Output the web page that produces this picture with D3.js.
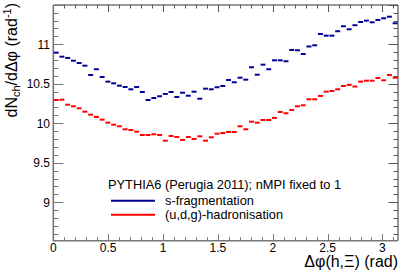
<!DOCTYPE html>
<html>
<head>
<meta charset="utf-8">
<script src="https://cdn.jsdelivr.net/npm/d3@7"></script>
<style>
  body { margin: 0; background: #fff; }
  text { font-family: "Liberation Sans", Arial, Helvetica, sans-serif; }
</style>
</head>
<body>
<svg id="chart"></svg>
<script>
// values per bin, 60 bins over [0, pi]
var nBins = 60;
var sFrag = [10.894, 10.843, 10.827, 10.792, 10.763, 10.729, 10.611, 10.684, 10.586, 10.527,
             10.506, 10.476, 10.459, 10.430, 10.459, 10.396, 10.295, 10.320, 10.342, 10.371,
             10.396, 10.333, 10.387, 10.349, 10.400, 10.311, 10.438, 10.430, 10.456, 10.472,
             10.548, 10.519, 10.577, 10.552, 10.709, 10.615, 10.742, 10.684, 10.797, 10.797,
             10.785, 10.928, 10.924, 10.877, 10.972, 10.987, 11.130, 11.109, 11.109, 11.165,
             11.228, 11.190, 11.241, 11.282, 11.299, 11.278, 11.308, 11.329, 11.349, 11.266];
var udgHad = [10.295, 10.299, 10.235, 10.215, 10.190, 10.147, 10.109, 10.080, 10.046, 10.008,
              9.982, 9.962, 9.924, 9.915, 9.894, 9.852, 9.852, 9.861, 9.852, 9.780,
              9.839, 9.827, 9.789, 9.827, 9.801, 9.835, 9.780, 9.823, 9.868, 9.877,
              9.890, 9.890, 9.962, 9.924, 10.020, 10.008, 10.042, 10.042, 10.068, 10.143,
              10.127, 10.168, 10.215, 10.228, 10.304, 10.304, 10.346, 10.400, 10.409, 10.430,
              10.472, 10.486, 10.465, 10.527, 10.539, 10.539, 10.573, 10.544, 10.611, 10.577];
var xTicks = [0, 0.5, 1, 1.5, 2, 2.5, 3];
var yTicks = [9, 9.5, 10, 10.5, 11];
var seriesNames = ["s-fragmentation", "(u,d,g)-hadronisation"];
var seriesColors = ["#000099", "#ff0000"];
var legendTitle = "PYTHIA6 (Perugia 2011); nMPI fixed to 1";

var w = 407, h = 277;
var pLeft = 53.3, pRight = 398, pTop = 5, pBottom = 240.7;

var svg = d3.select("#chart").attr("width", w).attr("height", h);

var x = d3.scaleLinear().domain([0, Math.PI]).range([pLeft, pRight]);
var y = d3.scaleLinear().domain([8.514, 11.497]).range([pBottom, pTop]);

// frame
svg.append("line").attr("x1", pLeft).attr("x2", pRight).attr("y1", pTop).attr("y2", pTop)
   .attr("stroke", "#333").attr("stroke-width", 1);
svg.append("line").attr("x1", pRight).attr("x2", pRight).attr("y1", pTop).attr("y2", pBottom)
   .attr("stroke", "#333").attr("stroke-width", 1);

// minor / major ticks
var xMinor = d3.range(0, 3.15, 0.1);
var yMinor = d3.range(8.6, 11.5, 0.1);
var tg = svg.append("g").attr("stroke", "#777").attr("stroke-width", 1);
xMinor.forEach(function(v) {
  var major = Math.abs(v * 2 - Math.round(v * 2)) < 1e-6;
  var px = Math.round(x(v)) + 0.5;
  tg.append("line").attr("x1", px).attr("x2", px).attr("y1", pBottom).attr("y2", pBottom - (major ? 6.5 : 3.5));
  tg.append("line").attr("x1", px).attr("x2", px).attr("y1", pTop).attr("y2", pTop + (major ? 7 : 3.5)).attr("stroke", "#555");
});
yMinor.forEach(function(v) {
  var major = Math.abs(v * 2 - Math.round(v * 2)) < 1e-6;
  var py = Math.round(y(v)) + 0.5;
  tg.append("line").attr("x1", pLeft).attr("x2", pLeft + (major ? 10 : 5)).attr("y1", py).attr("y2", py);
  tg.append("line").attr("x1", pRight).attr("x2", pRight - (major ? 9.5 : 4.5)).attr("y1", py).attr("y2", py).attr("stroke", "#555");
});

// axis lines
svg.append("line").attr("x1", pLeft).attr("x2", pLeft).attr("y1", pTop).attr("y2", pBottom + 0.5)
   .attr("stroke", "#777").attr("stroke-width", 1.6);
svg.append("line").attr("x1", pLeft).attr("x2", pRight).attr("y1", pBottom).attr("y2", pBottom)
   .attr("stroke", "#777").attr("stroke-width", 1.6);

// tick labels
svg.selectAll(".xl").data(xTicks).enter().append("text")
   .attr("x", function(d) { return x(d); }).attr("y", 252)
   .attr("text-anchor", "middle").attr("font-size", 12).attr("fill", "#000")
   .text(function(d) { return d; });
svg.selectAll(".yl").data(yTicks).enter().append("text")
   .attr("x", 50).attr("y", function(d) { return y(d) + 4.3; })
   .attr("text-anchor", "end").attr("font-size", 12).attr("fill", "#000")
   .text(function(d) { return d; });

// axis titles
svg.append("text").attr("x", 398).attr("y", 267).attr("text-anchor", "end")
   .attr("font-size", 16).text("\u0394\u03c6(h,\u039e) (rad)");
var yt = svg.append("text").attr("transform", "translate(17,3) rotate(-90)")
   .attr("text-anchor", "end").attr("font-size", 16);
yt.append("tspan").text("dN");
yt.append("tspan").attr("font-size", 11).attr("dy", 3).text("ch");
yt.append("tspan").attr("dy", -3).text("/d\u0394\u03c6 (rad");
yt.append("tspan").attr("font-size", 11).attr("dy", -6).text("-1");
yt.append("tspan").attr("dy", 6).text(")");

// histogram bars
var bw = Math.PI / nBins;
[sFrag, udgHad].forEach(function(series, k) {
  svg.append("g").selectAll("line").data(series).enter().append("line")
     .attr("x1", function(d, i) { return x(i * bw) + 0.4; })
     .attr("x2", function(d, i) { return x((i + 1) * bw) - 0.4; })
     .attr("y1", function(d) { return y(d); })
     .attr("y2", function(d) { return y(d); })
     .attr("stroke", seriesColors[k]).attr("stroke-width", 2);
});

// legend
svg.append("text").attr("x", 108).attr("y", 189).attr("font-size", 12.8).text(legendTitle);
seriesNames.forEach(function(name, k) {
  var ly = 200.7 + k * 14;
  svg.append("line").attr("x1", 111).attr("x2", 155).attr("y1", ly).attr("y2", ly)
     .attr("stroke", seriesColors[k]).attr("stroke-width", 2);
  svg.append("text").attr("x", 165).attr("y", ly + 4.5).attr("font-size", 12.8).text(name);
});
</script>
</body>
</html>
